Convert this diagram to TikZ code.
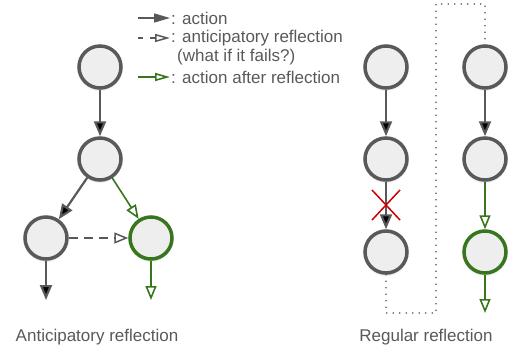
\documentclass[tikz,border=0pt]{standalone}
\usepackage{fontspec}
\setmainfont{Liberation Sans}
\usetikzlibrary{arrows.meta,shadows.blur}
\definecolor{ink}{HTML}{595959}
\definecolor{leaf}{HTML}{38761D}
\definecolor{cross}{HTML}{CC0000}
\definecolor{disc}{HTML}{EEEEEE}
\tikzset{
	act/.style={draw=ink,line width=2.2pt,-{Triangle[length=15pt,width=12pt]}},
	tryact/.style={draw=ink,line width=1.5pt,dash pattern=on 9pt off 6pt,-{Triangle[open,length=14pt,width=11pt]}},
	fixact/.style={draw=leaf,line width=1.6pt,-{Triangle[open,length=14pt,width=11pt]}},
	legtext/.style={text=ink,font=\fontsize{17}{20}\selectfont,anchor=west,inner sep=0pt}
}
\begin{document}
\begin{tikzpicture}[x=1pt,y=-1pt]
		\useasboundingbox (0,0) rectangle (508,356);
		\begin{scope}[every node/.style={circle,draw=ink,line width=3.5pt,fill=disc,
			inner sep=0pt,minimum size=42pt,
			blur shadow={shadow blur steps=6,shadow xshift=0pt,shadow yshift=-1.5pt,shadow opacity=25}}]
		\node (a1) at (100,67) {};
		\node (a2) at (100,159) {};
		\node (a3) at (46,238) {};
		\node[draw=leaf] (a4) at (151,238) {};
		\node (r1) at (386,67) {};
		\node (r2) at (386,159) {};
		\node (r3) at (386,252) {};
		\node (s1) at (485,67) {};
		\node (s2) at (485,159) {};
		\node[draw=leaf] (s3) at (485,252) {};
		\end{scope}
		
		% free ends
		\coordinate (a3o) at (46,300);
		\coordinate (a4o) at (151,300);
		\coordinate (s3o) at (485,313);
		\coordinate (k1) at (386,313);
		\coordinate (k2) at (436,313);
		\coordinate (k3) at (436,4);
		\coordinate (k4) at (485,4);
		
		\path[act] (a1) edge (a2);
		\path[act] (a2) edge (a3);
		\path[fixact] (a2) edge (a4);
		\path[tryact] (a3) edge (a4);
		\path[act] (a3) edge (a3o);
		\path[fixact] (a4) edge (a4o);
		
		\path[act] (r1) edge (r2);
		\path[act] (r2) edge (r3);
		\path[act] (s1) edge (s2);
		\path[fixact] (s2) edge (s3);
		\path[fixact] (s3) edge (s3o);
		
		\draw[cross,line width=1.5pt] (372,190) -- (400,220) (372,220) -- (400,190);
		\draw[ink,line width=1.8pt,line cap=round,dash pattern=on 0pt off 6.5pt]
			(r3) -- (k1) -- (k2) -- (k3) -- (k4) -- (s1);
		
		% legend
		\coordinate (g1) at (138,18);
		\coordinate (h1) at (170,18);
		\coordinate (g2) at (138,38);
		\coordinate (h2) at (170,38);
		\coordinate (g3) at (138,77);
		\coordinate (h3) at (170,77);
		\draw[act,line width=1.5pt,-{Triangle[length=16pt,width=9pt]}] (g1) -- (h1);
		\draw[tryact,dash pattern=on 5pt off 7pt,-{Triangle[open,length=15pt,width=8pt]}] (g2) -- (h2);
		\draw[fixact,-{Triangle[open,length=15pt,width=8pt]}] (g3) -- (h3);
		\node[legtext] (t1) at (171,18) {: action};
		\node[legtext] (t2) at (171,38) {: anticipatory reflection};
		\node[legtext] (t3) at (177,57) {(what if it fails?)};
		\node[legtext] (t4) at (171,77) {: action after reflection};
		
		\node[legtext,anchor=center] (n1) at (97,337) {Anticipatory reflection};
		\node[legtext,anchor=center] (n2) at (426,337) {Regular reflection};
\end{tikzpicture}
\end{document}
